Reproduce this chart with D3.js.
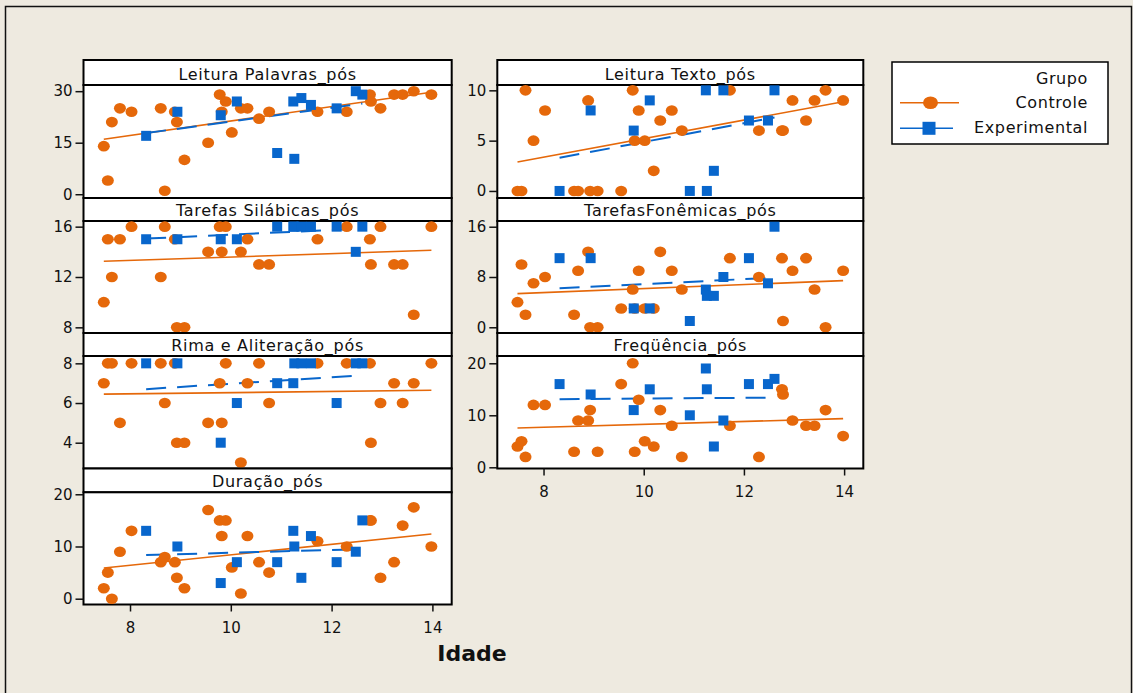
<!DOCTYPE html>
<html>
<head>
<meta charset="utf-8">
<script src="https://cdn.jsdelivr.net/npm/d3@7"></script>
<style>
  html, body { margin: 0; padding: 0; background: #EEEAE0; }
  svg { display: block; font-family: "DejaVu Sans", Verdana, sans-serif; }
</style>
</head>
<body>
<svg id="chart" width="1133" height="693"></svg>
<script>
// Panels, in reading order
const panelTitles = [
  "Leitura Palavras_pós", "Leitura Texto_pós",
  "Tarefas Silábicas_pós", "TarefasFonêmicas_pós",
  "Rima e Aliteração_pós", "Freqüência_pós",
  "Duração_pós"
];
const yTickValues = [[0, 15, 30], [0, 5, 10], [8, 12, 16], [0, 8, 16], [4, 6, 8], [0, 10, 20], [0, 10, 20]];
const yDomains = [[-1.1, 31.8], [-0.7, 10.53], [7.55, 16.45], [-0.91, 16.91], [2.7, 8.37], [-0.23, 21.4], [-1.11, 20.38]];
const ageTicks = [8, 10, 12, 14];
const ageDomain = [7.077, 14.383];

// Idade dos alunos
const controlAges = [7.48, 7.56, 7.64, 7.80, 8.03, 8.61, 8.69, 8.89, 8.93, 9.08, 9.55, 9.78, 9.82, 9.90,
  10.02, 10.20, 10.33, 10.56, 10.76, 11.72, 12.30, 12.76, 12.78, 12.97, 13.24, 13.41, 13.63, 13.98];
const experimentalAges = [8.32, 8.94, 9.80, 10.12, 10.92, 11.24, 11.26, 11.40, 11.59, 12.10, 12.48, 12.61];

// Grupo Controle (null = sem registro)
const ctlLeituraPalavras = [14, 4, 21, 25, 24, 25, 1, 24, 21, 10, 15, 29, 24, 27, 18, 25, 25, 22, 24, 24, 24, 29, 27, 25, 29, 29, 30, 29];
const ctlLeituraTexto    = [0, 0, 10, 5, 8, 0, 0, 9, 0, 0, 0, 10, 5, 8, 5, 2, 7, 8, 6, 10, 6, 6, 6, 9, 7, 9, 10, 9];
const ctlSilabicas       = [10, 15, 12, 15, 16, 12, 16, 15, 8, 8, 14, 16, 14, 16, null, 14, 15, 13, 13, 15, 16, 15, 13, 16, 13, 13, 9, 16];
const ctlFonemicas       = [4, 10, 2, 7, 8, 2, 9, 12, 0, 0, 3, 6, 3, 9, 3, 3, 12, 9, 6, 11, 8, 11, 1, 9, 11, 6, 0, 9];
const ctlRima            = [7, 8, 8, 5, 8, 8, 6, 8, 4, 4, 5, 7, 5, 8, null, 3, 7, 8, 6, 8, 8, 8, 4, 6, 7, 6, 7, 8];
const ctlFrequencia      = [4, 5, 2, 12, 12, 3, 9, 9, 11, 3, 16, 20, 3, 13, 5, 4, 11, 8, 2, 8, 2, 15, 14, 9, 8, 8, 11, 6];
const ctlDuracao         = [2, 5, 0, 9, 13, 7, 8, 7, 4, 2, 17, 15, 12, 15, 6, 1, 12, 7, 5, 11, 10, 15, 15, 4, 7, 14, 17.5, 10];

// Grupo Experimental
const expLeituraPalavras = [17, 24, 23, 27, 12, 27, 10.3, 28, 26, 25, 30, 29];
const expLeituraTexto    = [0, 8, 6, 9, 0, 10, 0, 2, 10, 7, 7, 10];
const expSilabicas       = [15, 15, 15, 15, 16, 16, 16, 16, 16, 16, 14, 16];
const expFonemicas       = [11, 11, 3, 3, 1, 6, 5, 5, 8, 11, 7, 16];
const expRima            = [8, 8, 4, 6, 7, 7, 8, 8, 8, 6, 8, 8];
const expFrequencia      = [16, 14, 11, 15, 10, 19, 15, 4, 9, 16, 16, 17];
const expDuracao         = [13, 10, 3, 7, 7, 13, 10, 4, 12, 7, 9, 15];

// Retas ajustadas: valor no início e no fim do intervalo de idades de cada grupo
const controlFitStart = [16.0, 2.88, 13.25, 5.35, 6.45, 7.56, 5.88];
const controlFitEnd   = [29.7, 8.87, 14.12, 7.42, 6.64, 9.36, 12.4];
const expFitStart     = [17.8, 3.3, 15.05, 6.2, 6.7, 13.1, 8.35];
const expFitEnd       = [26.4, 7.3, 15.85, 7.9, 7.4, 13.4, 9.5];

const groupNames = ["Controle", "Experimental"];
const legendTitle = "Grupo";
const xAxisTitle = "Idade";

const controlSeries = [ctlLeituraPalavras, ctlLeituraTexto, ctlSilabicas, ctlFonemicas, ctlRima, ctlFrequencia, ctlDuracao];
const expSeries = [expLeituraPalavras, expLeituraTexto, expSilabicas, expFonemicas, expRima, expFrequencia, expDuracao];

const ORANGE = "#E5680A";
const BLUE = "#0866CC";

// Layout of the panel grid
const colX = [[83.5, 451.7], [497.3, 863.3]];
const rowY = [[60, 85, 198], [198, 221, 333], [333, 356, 468.5], [468.5, 492.3, 604.5]];
const panelCell = [[0, 0], [1, 0], [0, 1], [1, 1], [0, 2], [1, 2], [0, 3]];
const withXAxis = [false, false, false, false, false, true, true];

const svg = d3.select("#chart");

// outer frame
svg.append("rect")
  .attr("x", 5.5).attr("y", 6.5).attr("width", 1126).attr("height", 700)
  .attr("fill", "#EEEAE0").attr("stroke", "#111").attr("stroke-width", 1.5);

panelTitles.forEach((title, i) => {
  const [c, r] = panelCell[i];
  const [x0, x1] = colX[c];
  const [top, hb, bottom] = rowY[r];
  const x = d3.scaleLinear().domain(ageDomain).range([x0, x1]);
  const y = d3.scaleLinear().domain(yDomains[i]).range([bottom, hb]);
  const g = svg.append("g");

  // strip header
  g.append("rect").attr("x", x0).attr("y", top).attr("width", x1 - x0).attr("height", hb - top)
    .attr("fill", "#fff").attr("stroke", "#000").attr("stroke-width", 2);
  g.append("text").attr("x", (x0 + x1) / 2).attr("y", hb - 5)
    .attr("text-anchor", "middle").attr("font-size", 16).attr("letter-spacing", 0.7)
    .attr("fill", "#111").text(title);

  // plot area
  g.append("rect").attr("x", x0).attr("y", hb).attr("width", x1 - x0).attr("height", bottom - hb)
    .attr("fill", "#fff").attr("stroke", "#000").attr("stroke-width", 2);

  // y axis
  const ya = g.append("g").attr("transform", `translate(${x0},0)`)
    .call(d3.axisLeft(y).tickValues(yTickValues[i]).tickSize(8).tickPadding(3).tickFormat(d3.format("d")));
  ya.select(".domain").remove();
  ya.selectAll(".tick line").attr("stroke", "#111").attr("stroke-width", 1.5);
  ya.selectAll(".tick text").attr("font-size", 15).attr("fill", "#111")
    .attr("font-family", "DejaVu Sans, Verdana, sans-serif");

  if (withXAxis[i]) {
    const xa = g.append("g").attr("transform", `translate(0,${bottom})`)
      .call(d3.axisBottom(x).tickValues(ageTicks).tickSize(7).tickPadding(11).tickFormat(d3.format("d")));
    xa.select(".domain").remove();
    xa.selectAll(".tick line").attr("stroke", "#111").attr("stroke-width", 1.5);
    xa.selectAll(".tick text").attr("font-size", 15).attr("fill", "#111")
      .attr("font-family", "DejaVu Sans, Verdana, sans-serif");
  }

  // fitted lines
  const cA = d3.extent(controlAges), eA = d3.extent(experimentalAges);
  const line = d3.line().x(d => x(d[0])).y(d => y(d[1]));
  g.append("path")
    .attr("d", line([[cA[0], controlFitStart[i]], [cA[1], controlFitEnd[i]]]))
    .attr("fill", "none").attr("stroke", ORANGE).attr("stroke-width", 1.6);
  g.append("path")
    .attr("d", line([[eA[0], expFitStart[i]], [eA[1], expFitEnd[i]]]))
    .attr("fill", "none").attr("stroke", BLUE).attr("stroke-width", 2)
    .attr("stroke-dasharray", "20,11");

  // control: circles
  const ctlPts = controlSeries[i].map((v, k) => [controlAges[k], v]).filter(d => d[1] != null);
  g.selectAll(null).data(ctlPts)
    .enter().append("ellipse")
    .attr("cx", d => x(d[0])).attr("cy", d => y(d[1]))
    .attr("rx", 6).attr("ry", 5.3).attr("fill", ORANGE);

  // experimental: squares
  const expPts = expSeries[i].map((v, k) => [experimentalAges[k], v]).filter(d => d[1] != null);
  g.selectAll(null).data(expPts)
    .enter().append("rect")
    .attr("x", d => x(d[0]) - 5).attr("y", d => y(d[1]) - 5)
    .attr("width", 10).attr("height", 10).attr("fill", BLUE);
});

// x axis title
svg.append("text").attr("x", 472).attr("y", 661).attr("text-anchor", "middle")
  .attr("font-size", 22).attr("font-weight", "bold").attr("fill", "#111").text(xAxisTitle);

// legend
const lg = svg.append("g");
lg.append("rect").attr("x", 892).attr("y", 62).attr("width", 216).attr("height", 82)
  .attr("fill", "#fff").attr("stroke", "#000").attr("stroke-width", 1.5);
lg.append("text").attr("x", 1088).attr("y", 83.5).attr("text-anchor", "end")
  .attr("font-size", 16).attr("letter-spacing", 0.6).attr("fill", "#111").text(legendTitle);
lg.append("text").attr("x", 1088).attr("y", 108.3).attr("text-anchor", "end")
  .attr("font-size", 16).attr("letter-spacing", 0.6).attr("fill", "#111").text(groupNames[0]);
lg.append("text").attr("x", 1088).attr("y", 133.3).attr("text-anchor", "end")
  .attr("font-size", 16).attr("letter-spacing", 0.6).attr("fill", "#111").text(groupNames[1]);
lg.append("line").attr("x1", 900).attr("x2", 959).attr("y1", 102.7).attr("y2", 102.7)
  .attr("stroke", ORANGE).attr("stroke-width", 1.6);
lg.append("ellipse").attr("cx", 930.5).attr("cy", 102.7).attr("rx", 7.5).attr("ry", 6.3).attr("fill", ORANGE);
lg.append("line").attr("x1", 900).attr("x2", 953).attr("y1", 128.3).attr("y2", 128.3)
  .attr("stroke", BLUE).attr("stroke-width", 1.6);
lg.append("rect").attr("x", 922.5).attr("y", 121.8).attr("width", 13).attr("height", 13).attr("fill", BLUE);
</script>
</body>
</html>
